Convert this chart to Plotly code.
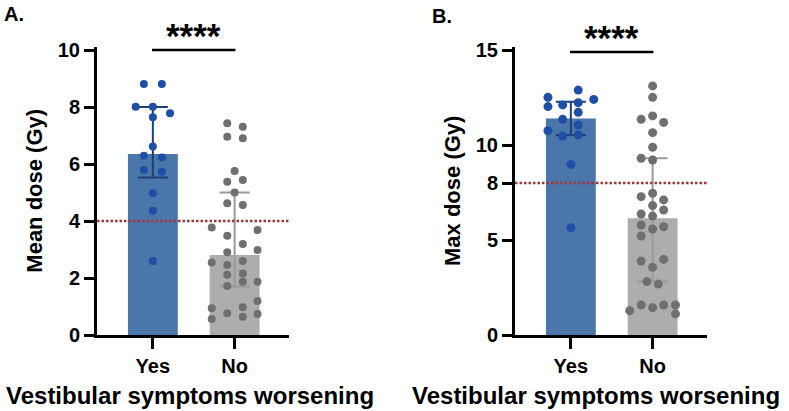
import plotly.graph_objects as go

# ---------------- data ----------------
categories = ["Yes", "No"]

# Panel A: mean dose (Gy)
a_yes = [8.81, 8.81, 8.01, 8.01, 7.78, 7.64, 6.61, 6.29, 6.23, 5.79, 5.73, 4.97, 4.36, 2.60]
a_yes_jit = [-0.11, 0.11, -0.21, 0.0, 0.21, 0.0, 0.0, -0.11, 0.11, -0.11, 0.11, 0.0, 0.0, 0.0]
a_no = [7.43, 7.31, 6.96, 6.90, 5.75, 5.38, 5.44, 5.00, 4.62, 4.56, 3.77, 3.68, 3.48, 3.19,
        2.98, 2.90, 2.54, 2.46, 2.60, 2.11, 2.16, 1.72, 1.87, 1.87, 1.19, 0.94, 0.76, 0.97,
        0.56, 0.64, 0.74]
a_no_jit = [-0.09, 0.10, -0.09, 0.10, 0.0, -0.09, 0.10, 0.0, -0.09, 0.10, -0.28, 0.28, -0.09, 0.10,
            0.28, -0.09, -0.28, -0.09, 0.10, -0.09, 0.10, -0.09, 0.10, 0.28, 0.28, -0.28, -0.09, 0.10,
            -0.28, 0.10, 0.28]
a_bar = [6.35, 2.81]
a_err_hi = [8.00, 5.00]
a_err_lo = [5.53, 1.70]
a_threshold = 4
a_ticks = [0, 2, 4, 6, 8, 10]

# Panel B: max dose (Gy)
b_yes = [12.89, 12.51, 12.40, 12.02, 12.11, 12.23, 11.72, 11.35, 11.05, 10.75, 10.47, 10.53, 8.98, 5.65]
b_yes_jit = [0.09, -0.28, 0.28, -0.28, -0.10, 0.09, 0.09, -0.10, 0.09, -0.28, -0.10, 0.09, 0.0, 0.0]
b_no = [13.11, 12.51, 11.35, 11.53, 11.19, 10.65, 9.88, 9.30, 9.21, 7.28, 7.46, 7.11, 6.81, 6.58,
        6.37, 6.26, 5.79, 5.58, 5.70, 5.21, 3.89, 3.98, 3.56, 2.81, 2.68, 1.28, 1.58, 1.44,
        1.58, 1.58, 1.11]
b_no_jit = [0.0, 0.0, -0.14, 0.0, 0.135, 0.0, 0.0, -0.14, 0.0, -0.14, 0.0, 0.135, 0.0, 0.135,
            -0.14, 0.0, -0.14, 0.0, 0.135, -0.14, -0.14, 0.135, 0.0, -0.07, 0.07, -0.28, -0.14, 0.0,
            0.135, 0.28, 0.28]
b_bar = [11.40, 6.14]
b_err_hi = [12.28, 9.30]
b_err_lo = [10.53, 2.81]
b_threshold = 8
b_ticks = [0, 5, 8, 10, 15]

significance = "****"
y_titles = ["Mean dose (Gy)", "Max dose (Gy)"]
x_title = "Vestibular symptoms worsening"
panel_labels = ["A.", "B."]

# ---------------- styles ----------------
FONT = "Liberation Sans, Arial, sans-serif"
BAR_YES = "#4b76a9"
BAR_NO = "#adadad"
DOT_YES = "#1f4ea6"
DOT_NO = "#6f6f6f"
ERR_YES = "#1e3f78"
ERR_NO = "#9a9a9a"
RED = "#a3343a"

W, H = 789, 411
fig = go.Figure()

panels = [
    dict(vals=(a_yes, a_no), jit=(a_yes_jit, a_no_jit), bar=a_bar, hi=a_err_hi, lo=a_err_lo,
         thr=a_threshold, ticks=a_ticks, ymax=10, dom=(97, 289), dot=8, sig_y=10.0, title_x=190),
    dict(vals=(b_yes, b_no), jit=(b_yes_jit, b_no_jit), bar=b_bar, hi=b_err_hi, lo=b_err_lo,
         thr=b_threshold, ticks=b_ticks, ymax=15, dom=(515, 707), dot=9, sig_y=14.9, title_x=596),
]

top_px, bot_px = 50, 335
x_range = [-0.683, 1.665]

for i, p in enumerate(panels):
    xa = "x" if i == 0 else "x2"
    ya = "y" if i == 0 else "y2"
    bar_cols = [BAR_YES, BAR_NO]
    dot_cols = [DOT_YES, DOT_NO]
    err_cols = [ERR_YES, ERR_NO]
    for g in range(2):
        fig.add_trace(go.Bar(
            x=[g], y=[p["bar"][g]], width=0.61, marker=dict(color=bar_cols[g], line=dict(width=0)),
            error_y=dict(type="data", symmetric=False,
                         array=[p["hi"][g] - p["bar"][g]],
                         arrayminus=[p["bar"][g] - p["lo"][g]],
                         color=err_cols[g], thickness=2, width=15),
            xaxis=xa, yaxis=ya, showlegend=False, hoverinfo="skip"))
    for g in range(2):
        fig.add_trace(go.Scatter(
            x=[g + j for j in p["jit"][g]], y=p["vals"][g], mode="markers",
            marker=dict(color=dot_cols[g], size=p["dot"], line=dict(width=0)),
            xaxis=xa, yaxis=ya, showlegend=False, hoverinfo="skip", cliponaxis=False))

    # y range extended slightly so that the significance bar at the top is not clipped
    ext = 0.012 * p["ymax"]
    yr = [0, p["ymax"] + ext]
    px_per = (bot_px - top_px) / p["ymax"]
    dom_top = 1 - (top_px - ext * px_per) / H
    dom_bot = 1 - bot_px / H
    axfont = dict(family=FONT, size=20, color="black", weight="bold")
    xkey = "xaxis" if i == 0 else "xaxis2"
    ykey = "yaxis" if i == 0 else "yaxis2"
    fig.update_layout(**{
        xkey: dict(domain=[p["dom"][0] / W, p["dom"][1] / W], range=x_range, anchor=ya,
                   automargin=False,
                   showline=True, linewidth=3, linecolor="black", showgrid=False, zeroline=False,
                   ticks="outside", ticklen=11, tickwidth=3, tickcolor="black",
                   tickvals=[0, 1], ticktext=categories, tickfont=axfont),
        ykey: dict(domain=[dom_bot, dom_top], range=yr, anchor=xa,
                   automargin=False,
                   showline=True, linewidth=3, linecolor="black", showgrid=False, zeroline=False,
                   ticks="outside", ticklen=10, tickwidth=3, tickcolor="black",
                   tickvals=p["ticks"], tickfont=axfont,
                   title=dict(text=y_titles[i], font=dict(family=FONT, size=22, color="black", weight="bold"),
                              standoff=10)),
    })

    # x-axis title (shifted left of the axis centre, as in the reference)
    fig.add_annotation(x=p["title_x"] / W, y=1 - 395 / H, xref="paper", yref="paper", text=x_title,
                       showarrow=False, xanchor="center", yanchor="middle",
                       font=dict(family=FONT, size=24, color="black", weight="bold"))

    # threshold line
    fig.add_shape(type="line", xref=f"{xa} domain", yref=ya, x0=0, x1=1, y0=p["thr"], y1=p["thr"],
                  line=dict(color=RED, width=2.5, dash="2.5px,2px"), layer="above")
    # significance bar
    fig.add_shape(type="line", xref=xa, yref=ya, x0=-0.01, x1=1.01, y0=p["sig_y"], y1=p["sig_y"],
                  line=dict(color="black", width=2.5), layer="above")
    fig.add_annotation(x=0.5, y=p["sig_y"], xref=xa, yref=ya, text=significance, showarrow=False,
                       yanchor="middle", yshift=14,
                       font=dict(family=FONT, size=35, color="black", weight="bold"))

fig.add_annotation(x=2 / W, y=1 - 1 / H, xref="paper", yref="paper", text=panel_labels[0],
                   showarrow=False, xanchor="left", yanchor="top",
                   font=dict(family=FONT, size=20, color="black", weight="bold"))
fig.add_annotation(x=430 / W, y=1 - 3 / H, xref="paper", yref="paper", text=panel_labels[1],
                   showarrow=False, xanchor="left", yanchor="top",
                   font=dict(family=FONT, size=20, color="black", weight="bold"))

fig.update_layout(width=W, height=H, margin=dict(l=0, r=0, t=0, b=0, autoexpand=False),
                  paper_bgcolor="white", plot_bgcolor="white", barmode="overlay",
                  font=dict(family=FONT, color="black"))

fig.write_html("out.html")
